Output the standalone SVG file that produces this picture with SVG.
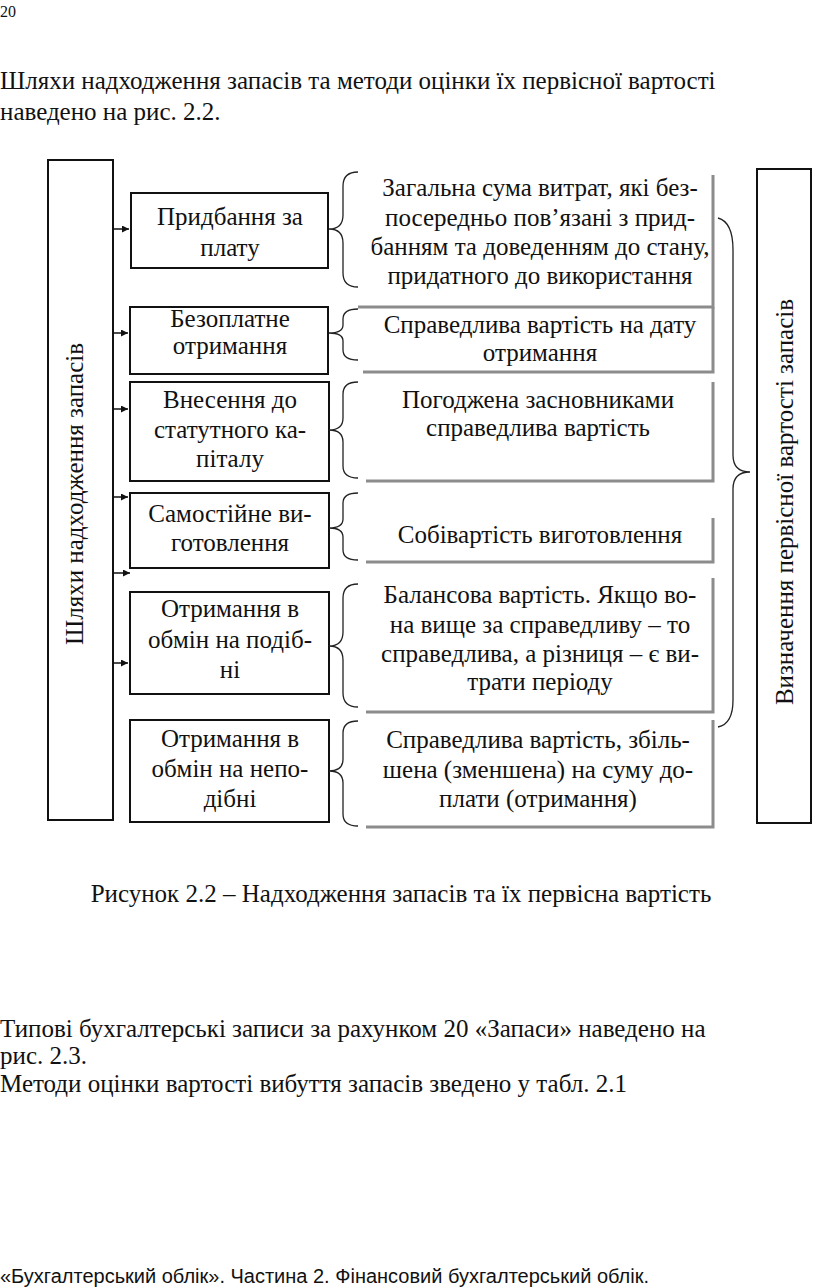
<svg xmlns="http://www.w3.org/2000/svg" width="816" height="1288" viewBox="0 0 816 1288">
<style>
.t{font-family:"Liberation Serif","Times New Roman",serif;font-size:25px;fill:#111}
.m{text-anchor:middle}
.box{fill:#fff;stroke:#111;stroke-width:2}
.gl{fill:none;stroke:#8c8c8c;stroke-width:3}
.br{fill:none;stroke:#222;stroke-width:1.3}
.ar{stroke:#111;stroke-width:1.5;marker-end:url(#ah)}
</style>
<defs>
<marker id="ah" viewBox="0 0 10 10" refX="10" refY="5" markerWidth="7" markerHeight="7" markerUnits="userSpaceOnUse" orient="auto"><path d="M0,0 L10,5 L0,10 z" fill="#111"/></marker>
</defs>
<rect width="816" height="1288" fill="#fff"/>
<text x="0" y="17" class="t" style="font-size:16px">20</text>
<text x="0" y="89" class="t">Шляхи надходження запасів та методи оцінки їх первісної вартості</text>
<text x="0" y="120" class="t">наведено на рис. 2.2.</text>

<g id="left-main">
<rect x="48" y="160" width="65" height="660" class="box"/>
<text transform="translate(83,494) rotate(-90)" class="t m">Шляхи надходження запасів</text>
</g>
<g id="right-main">
<rect x="757" y="169" width="54" height="654" class="box"/>
<text transform="translate(793,502) rotate(-90)" class="t m">Визначення первісної вартості запасів</text>
</g>

<g id="n1"><rect x="131" y="193" width="197" height="75" class="box"/>
<text x="230" y="225" class="t m">Придбання за</text><text x="230" y="256" class="t m">плату</text></g>
<g id="n2"><rect x="130" y="307" width="198" height="67" class="box"/>
<text x="230" y="327" class="t m">Безоплатне</text><text x="230" y="354" class="t m">отримання</text></g>
<g id="n3"><rect x="130" y="382" width="199" height="99" class="box"/>
<text x="230" y="408" class="t m">Внесення до</text><text x="230" y="438" class="t m">статутного ка-</text><text x="230" y="467" class="t m">піталу</text></g>
<g id="n4"><rect x="130" y="493" width="199" height="75" class="box"/>
<text x="230" y="522" class="t m">Самостійне ви-</text><text x="230" y="551" class="t m">готовлення</text></g>
<g id="n5"><rect x="130" y="592" width="199" height="102" class="box"/>
<text x="230" y="617" class="t m">Отримання в</text><text x="230" y="648" class="t m">обмін на подіб-</text><text x="230" y="678" class="t m">ні</text></g>
<g id="n6"><rect x="130" y="720" width="199" height="102" class="box"/>
<text x="230" y="747" class="t m">Отримання в</text><text x="230" y="777" class="t m">обмін на непо-</text><text x="230" y="807" class="t m">дібні</text></g>

<g id="r1"><path d="M358,307 H713 V175" class="gl"/>
<text x="540" y="196" class="t m">Загальна сума витрат, які без-</text>
<text x="540" y="226" class="t m">посередньо пов’язані з прид-</text>
<text x="540" y="255" class="t m">банням та доведенням до стану,</text>
<text x="540" y="284" class="t m">придатного до використання</text></g>
<g id="r2"><path d="M363,372 H713 V307" class="gl"/>
<text x="540" y="333" class="t m">Справедлива вартість на дату</text>
<text x="540" y="361" class="t m">отримання</text></g>
<g id="r3"><path d="M366,481 H713 V382" class="gl"/>
<text x="538" y="408" class="t m">Погоджена засновниками</text>
<text x="538" y="436" class="t m">справедлива вартість</text></g>
<g id="r4"><path d="M366,562 H713 V518" class="gl"/>
<text x="540" y="543" class="t m">Собівартість виготовлення</text></g>
<g id="r5"><path d="M366,712 H713 V578" class="gl"/>
<text x="540" y="603" class="t m">Балансова вартість. Якщо во-</text>
<text x="540" y="633" class="t m">на вище за справедливу – то</text>
<text x="540" y="662" class="t m">справедлива, а різниця – є ви-</text>
<text x="540" y="690" class="t m">трати періоду</text></g>
<g id="r6"><path d="M366,827 H713 V720" class="gl"/>
<text x="538" y="748" class="t m">Справедлива вартість, збіль-</text>
<text x="538" y="778" class="t m">шена (зменшена) на суму до-</text>
<text x="538" y="807" class="t m">плати (отримання)</text></g>

<g id="connectors">
<line x1="113" y1="229" x2="129" y2="229" class="ar"/>
<line x1="113" y1="333" x2="128" y2="333" class="ar"/>
<line x1="113" y1="409" x2="128" y2="409" class="ar"/>
<line x1="113" y1="497" x2="128" y2="497" class="ar"/>
<line x1="113" y1="573" x2="130" y2="573" class="ar"/>
<line x1="113" y1="663" x2="128" y2="663" class="ar"/>
<path d="M358,172 Q343,172 343,186 V215 Q343,229 329,229 Q343,229 343,243 V273 Q343,287 358,287" class="br"/>
<path d="M358,309 Q343,309 343,319 V325 Q343,333 329,333 Q343,333 343,341 V350 Q343,360 358,360" class="br"/>
<path d="M358,382 Q343,382 343,394 V418 Q343,430 329,430 Q343,430 343,442 V466 Q343,478 358,478" class="br"/>
<path d="M358,493 Q343,493 343,503 V519 Q343,528 329,528 Q343,528 343,537 V550 Q343,560 358,560" class="br"/>
<path d="M358,584 Q343,584 343,598 V632 Q343,646 329,646 Q343,646 343,660 V693 Q343,707 358,707" class="br"/>
<path d="M358,721 Q343,721 343,733 V759 Q343,771 329,771 Q343,771 343,783 V814 Q343,826 358,826" class="br"/>
<path d="M718,218 Q733,222 733,250 V455 Q733,472 750,472 Q733,472 733,489 V700 Q733,724 718,727" class="br"/>
</g>

<text x="401" y="902" class="t m">Рисунок 2.2 – Надходження запасів та їх первісна вартість</text>
<text x="0" y="1037" class="t">Типові бухгалтерські записи за рахунком 20 «Запаси» наведено на</text>
<text x="0" y="1064" class="t">рис. 2.3.</text>
<text x="0" y="1092" class="t">Методи оцінки вартості вибуття запасів зведено у табл. 2.1</text>
<text x="0" y="1283" style="font-family:'Liberation Sans',Arial,sans-serif;font-size:20px;fill:#111">«Бухгалтерський облік». Частина 2. Фінансовий бухгалтерський облік.</text>
</svg>
